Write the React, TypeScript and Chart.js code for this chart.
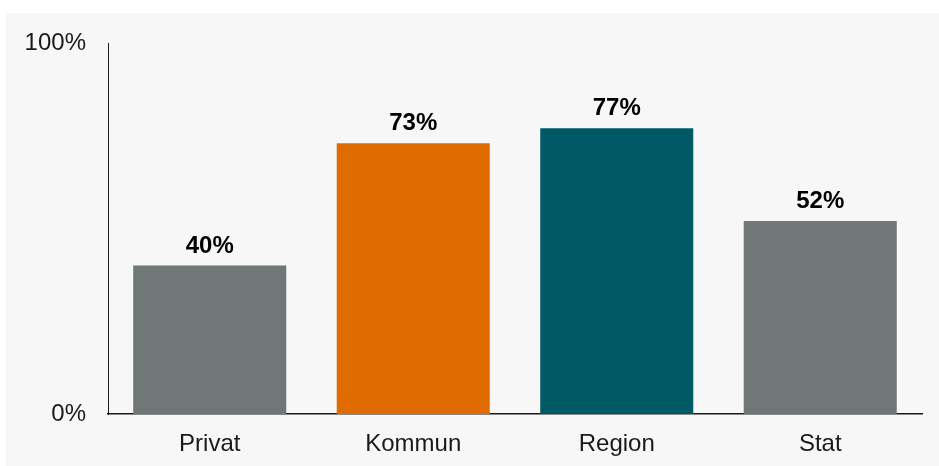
import React, { useEffect, useRef } from "react";
import { Chart, registerables } from "chart.js";

Chart.register(...registerables);

const categories = ["Privat", "Kommun", "Region", "Stat"];
const values = [40, 73, 77, 52];
const barColors = ["#6f7777", "#e06b00", "#005a66", "#6f7777"];
const yTicks = [0, 100];

const FONT = "'Liberation Sans', Arial, sans-serif";

const valueLabelPlugin = {
  id: "valueLabels",
  afterDatasetsDraw(chart: any) {
    const ctx = chart.ctx;
    const meta = chart.getDatasetMeta(0);
    ctx.save();
    ctx.font = `bold 24px ${FONT}`;
    ctx.fillStyle = "#000000";
    ctx.textAlign = "center";
    ctx.textBaseline = "alphabetic";
    meta.data.forEach((bar: any, i: number) => {
      ctx.fillText(`${values[i]}%`, bar.x, bar.y - 13);
    });
    ctx.restore();
  },
};

export default function App() {
  const ref = useRef<HTMLCanvasElement | null>(null);

  useEffect(() => {
    if (!ref.current) return;
    const chart = new Chart(ref.current, {
      type: "bar",
      data: {
        labels: categories,
        datasets: [
          {
            data: values,
            backgroundColor: barColors,
            borderWidth: 0,
            categoryPercentage: 1,
            barPercentage: 0.752,
          },
        ],
      },
      plugins: [valueLabelPlugin],
      options: {
        animation: false,
        responsive: false,
        devicePixelRatio: 1,
        layout: { padding: { top: 30, right: 17, left: 0, bottom: 0 } },
        plugins: {
          legend: { display: false },
          tooltip: { enabled: false },
        },
        scales: {
          x: {
            grid: { display: false, drawTicks: false },
            border: { display: true, color: "#1a1a1a", width: 1.5 },
            ticks: {
              color: "#1a1a1a",
              font: { family: FONT, size: 24 },
              padding: 16,
            },
            afterFit: (scale: any) => {
              scale.height = 52;
              scale.paddingLeft = 0;
              scale.paddingRight = 0;
            },
          },
          y: {
            min: 0,
            max: 100,
            afterBuildTicks: (scale: any) => {
              scale.ticks = yTicks.map((v) => ({ value: v }));
            },
            grid: { display: false, drawTicks: false },
            border: { display: true, color: "#1a1a1a", width: 1 },
            ticks: {
              color: "#1a1a1a",
              font: { family: FONT, size: 24 },
              padding: 22,
              callback: (v: any) => `${v}%`,
            },
            afterFit: (scale: any) => {
              scale.width = 102;
              scale.paddingTop = 0;
              scale.paddingBottom = 0;
            },
          },
        },
      },
    });
    return () => chart.destroy();
  }, []);

  return (
    <div
      style={{
        position: "fixed",
        left: 0,
        top: 0,
        width: 939,
        height: 466,
        background: "#ffffff",
      }}
    >
      <div
        style={{
          position: "absolute",
          left: 6,
          top: 13,
          width: 933,
          height: 453,
          background: "#f7f7f7",
        }}
      >
        <canvas
          ref={ref}
          width={933}
          height={453}
          style={{ display: "block", width: 933, height: 453 }}
        />
      </div>
    </div>
  );
}
